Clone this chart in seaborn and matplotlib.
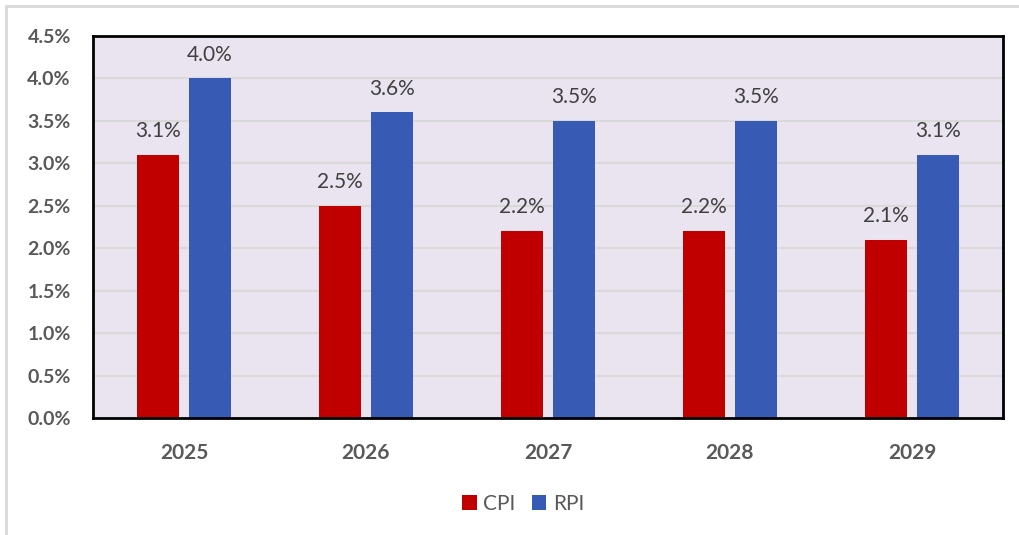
import matplotlib
matplotlib.use("Agg")
import matplotlib.pyplot as plt
import matplotlib.patches as mpatches
import seaborn as sns
import pandas as pd

years = ["2025", "2026", "2027", "2028", "2029"]
cpi = [3.1, 2.5, 2.2, 2.2, 2.1]
rpi = [4.0, 3.6, 3.5, 3.5, 3.1]
series = ["CPI", "RPI"]
colors = {"CPI": "#C00000", "RPI": "#375AB4"}
y_ticks = [0.0, 0.5, 1.0, 1.5, 2.0, 2.5, 3.0, 3.5, 4.0, 4.5]

df = pd.DataFrame({
    "year": years * 2,
    "value": cpi + rpi,
    "series": ["CPI"] * len(years) + ["RPI"] * len(years),
})

sns.set_style("white")
plt.rcParams["font.family"] = ["Lato", "DejaVu Sans"]

fig = plt.figure(figsize=(10.2, 5.35), dpi=100)
ax = fig.add_axes([93 / 1020, 1 - 418 / 535, 910 / 1020, 382 / 535])

# light outer frame like the spreadsheet chart area
fig.patches.append(mpatches.Rectangle((6 / 1020, -0.01), 1.02, 1 - 6 / 535 + 0.01,
                                      transform=fig.transFigure, fill=False,
                                      edgecolor="#D9D9D9", linewidth=2))

ax.set_facecolor("#EAE4F0")
sns.barplot(data=df, x="year", y="value", hue="series", palette=colors,
            width=0.571, gap=0.21, ax=ax, saturation=1, linewidth=0,
            legend=True)

for container in ax.containers:
    ax.bar_label(container, labels=[f"{v:.1f}%" for v in container.datavalues],
                 padding=10, fontsize=15, color="#404040")

ax.set_ylim(0, 4.5)
ax.set_yticks(y_ticks)
ax.set_yticklabels([f"{t:.1f}%" for t in y_ticks], fontsize=14,
                   fontweight="bold", color="#595959")
ax.tick_params(axis="x", labelsize=15, labelcolor="#595959", pad=18, length=0)
ax.tick_params(axis="y", pad=16, length=0)
for lab in ax.get_xticklabels():
    lab.set_fontweight("bold")
ax.set_xlabel("")
ax.set_ylabel("")
ax.yaxis.grid(True, color="#D9D9D9", linewidth=1.5)
ax.set_axisbelow(True)
for sp in ax.spines.values():
    sp.set_color("black")
    sp.set_linewidth(2)

ax.legend(loc="center", bbox_to_anchor=(0.4725, -0.225), ncol=2, frameon=False,
          fontsize=15, handlelength=0.7, handleheight=0.7, columnspacing=0.8,
          handletextpad=0.3, labelcolor="#595959")

fig.savefig("out.png", dpi=100)
